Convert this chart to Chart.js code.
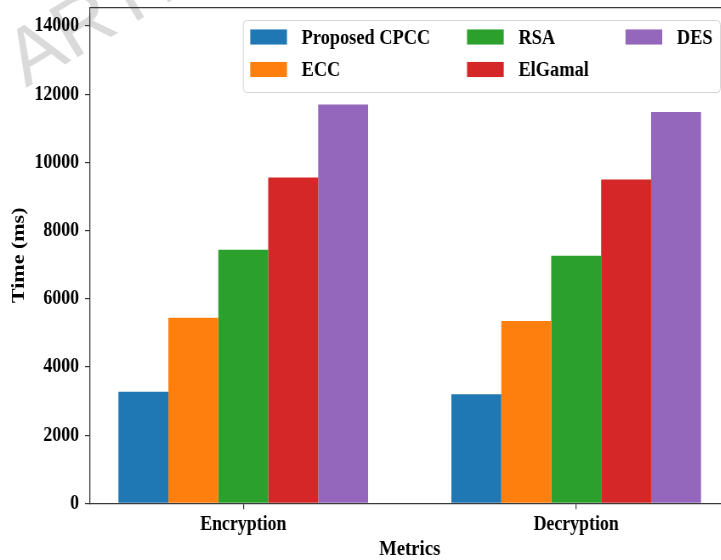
<!DOCTYPE html>
<html>
<head>
<meta charset="utf-8">
<script src="https://cdn.jsdelivr.net/npm/chart.js@4.4.1/dist/chart.umd.min.js"></script>
<style>
  html, body { margin: 0; padding: 0; background: #fff; overflow: hidden; }
  #frame { width: 721px; height: 560px; overflow: hidden; position: relative; background: #fff; }
  #stage { position: absolute; left: 0; top: 0; transform-origin: 0 0; }
</style>
</head>
<body>
<div id="frame"><div id="stage"><canvas id="chart"></canvas></div></div>
<script>
// Timing results per operation (ms)
const categories = ['Encryption', 'Decryption'];
const methods = ['Proposed CPCC', 'ECC', 'RSA', 'ElGamal', 'DES'];
const cpccTimes = [3270, 3200];
const eccTimes = [5440, 5350];
const rsaTimes = [7440, 7260];
const elgamalTimes = [9560, 9500];
const desTimes = [11700, 11480];
const yTicks = [0, 2000, 4000, 6000, 8000, 10000, 12000, 14000];
const yLimit = 14550;
const palette = ['#1f77b4', '#ff7f0e', '#2ca02c', '#d62728', '#9467bd'];
const watermarkText = 'ARTICLE IN PRESS';

// The figure is drawn wide and squeezed horizontally (condensed look)
const SQUEEZE = 0.85;
const W = 858, H = 560;
const SERIF = "'Liberation Serif', 'Times New Roman', serif";

const stage = document.getElementById('stage');
stage.style.width = W + 'px';
stage.style.height = H + 'px';
stage.style.transform = 'scaleX(' + SQUEEZE + ')';
const canvas = document.getElementById('chart');
canvas.width = W;
canvas.height = H;

const series = [cpccTimes, eccTimes, rsaTimes, elgamalTimes, desTimes];

const watermark = {
  id: 'watermark',
  beforeDraw(chart) {
    const ctx = chart.ctx;
    ctx.save();
    ctx.scale(1 / SQUEEZE, 1);
    ctx.translate(26, 88);
    ctx.rotate(-31 * Math.PI / 180);
    ctx.font = "80px 'Liberation Sans', Arial, sans-serif";
    ctx.fillStyle = '#dadada';
    ctx.textBaseline = 'alphabetic';
    ctx.fillText(watermarkText, 0, 0);
    ctx.restore();
  }
};

// Legend laid out in columns (filled top to bottom), anchored to the upper right
const columnLegend = {
  id: 'columnLegend',
  afterDraw(chart, args, o) {
    const { ctx, chartArea } = chart;
    const fs = o.fontSize;
    ctx.save();
    ctx.font = 'bold ' + fs + 'px ' + SERIF;
    const items = chart.data.datasets.map(d => ({ label: d.label, color: d.backgroundColor }));
    const cols = [];
    for (let i = 0; i < items.length; i += o.rows) cols.push(items.slice(i, i + o.rows));
    const handle = 2 * fs, handlePad = 0.8 * fs, colGap = 2 * fs, pad = 0.4 * fs;
    const colWidths = cols.map(c => handle + handlePad + Math.max(...c.map(it => ctx.measureText(it.label).width)));
    const boxW = 2 * pad + colWidths.reduce((a, b) => a + b, 0) + colGap * (cols.length - 1);
    const boxH = o.padTop + o.rowStep * (o.rows - 1) + o.padBottom;
    const right = chartArea.right - o.insetX;
    const top = chartArea.top + o.insetY;
    const left = right - boxW;
    ctx.beginPath();
    ctx.roundRect(left + 0.5, top + 0.5, boxW, boxH, 4);
    ctx.fillStyle = 'rgba(255,255,255,0.8)';
    ctx.fill();
    ctx.strokeStyle = '#d3d3d3';
    ctx.lineWidth = 1;
    ctx.stroke();
    let x = left + pad;
    cols.forEach((c, ci) => {
      c.forEach((it, ri) => {
        const cy = top + o.padTop + ri * o.rowStep;
        ctx.fillStyle = it.color;
        ctx.fillRect(x, cy - 0.35 * fs, handle, 0.7 * fs);
        ctx.fillStyle = '#000';
        ctx.textAlign = 'left';
        ctx.textBaseline = 'middle';
        ctx.fillText(it.label, x + handle + handlePad, cy + 1);
      });
      x += colWidths[ci] + colGap;
    });
    ctx.restore();
  }
};

const axisColor = '#3a3a3a';
const noPad = s => { s.paddingTop = 0; s.paddingBottom = 0; s.paddingLeft = 0; s.paddingRight = 0; };

new Chart(canvas, {
  type: 'bar',
  data: {
    datasets: methods.map((name, k) => ({
      label: name,
      data: series[k].map((v, i) => ({ x: i, y: v })),
      backgroundColor: palette[k],
      borderWidth: 0,
      categoryPercentage: 0.75,
      barPercentage: 1.0
    }))
  },
  options: {
    responsive: false,
    animation: false,
    events: [],
    layout: { padding: 0 },
    plugins: {
      legend: { display: false },
      tooltip: { enabled: false },
      columnLegend: { fontSize: 21.6, rows: 2, insetX: 11, insetY: 12.7, padTop: 17, rowStep: 32.5, padBottom: 22.5 }
    },
    scales: {
      x: {
        type: 'linear',
        position: 'bottom',
        offset: false,
        min: -0.46,
        max: 1.46,
        afterBuildTicks: s => { s.ticks = categories.map((_, i) => ({ value: i })); },
        afterFit: s => { s.height = H - 503.3; noPad(s); },
        ticks: {
          callback: v => categories[v],
          font: { family: SERIF, size: 21, weight: 'bold' },
          color: '#000',
          padding: 3,
          autoSkip: false,
          maxRotation: 0
        },
        grid: { display: true, offset: false, drawOnChartArea: false, drawTicks: true, tickLength: 6, color: axisColor, lineWidth: 1.2 },
        border: { display: true, color: axisColor, width: 1.3 },
        title: {
          display: true,
          text: 'Metrics',
          color: '#000',
          font: { family: SERIF, size: 22, weight: 'bold', lineHeight: 1 },
          padding: { top: 0, bottom: 0 }
        }
      },
      xTop: {
        type: 'linear',
        position: 'top',
        offset: false,
        min: 0,
        max: 1,
        afterFit: s => { s.height = 7.3; noPad(s); },
        ticks: { display: false },
        grid: { display: false },
        border: { display: true, color: axisColor, width: 1.3 }
      },
      y: {
        min: 0,
        max: yLimit,
        afterBuildTicks: s => { s.ticks = yTicks.map(v => ({ value: v })); },
        afterFit: s => { s.width = 106; noPad(s); },
        ticks: {
          callback: v => String(v),
          font: { family: SERIF, size: 21, weight: 'bold' },
          color: '#000',
          padding: 7
        },
        grid: { display: true, drawOnChartArea: false, drawTicks: true, tickLength: 6, color: axisColor, lineWidth: 1.2 },
        border: { display: true, color: axisColor, width: 1.3 },
        title: {
          display: true,
          text: 'Time (ms)',
          color: '#000',
          font: { family: SERIF, size: 22, weight: 'bold', lineHeight: 1.2 },
          padding: { top: 9, bottom: 0 }
        }
      }
    }
  },
  plugins: [watermark, columnLegend]
});
</script>
</body>
</html>
